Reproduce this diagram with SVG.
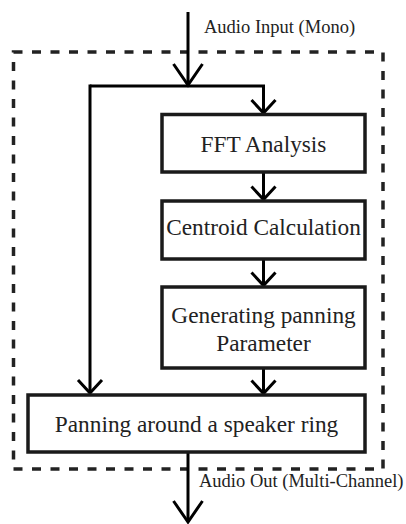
<svg xmlns="http://www.w3.org/2000/svg" width="406" height="524" viewBox="0 0 406 524">
<style>
.box{fill:#fff;stroke:#1a1a1a;stroke-width:3.5}
.lbl{font-family:"Liberation Serif","Times New Roman",serif;font-size:23.3px;fill:#222;text-anchor:middle}
.io{font-family:"Liberation Serif","Times New Roman",serif;font-size:18.5px;fill:#222}
.wire{fill:none;stroke:#000;stroke-width:3}
.frame{fill:none;stroke:#222;stroke-width:3.5;stroke-dasharray:9 9.5}
</style>
<defs>
<marker id="big" markerUnits="userSpaceOnUse" markerWidth="40" markerHeight="40" viewBox="-30 -20 40 40" refX="0" refY="0" orient="auto" style="overflow:visible">
<path d="M-21,-14.5 L0,0 L-21,14.5" fill="none" stroke="#000" stroke-width="3"/>
</marker>
<marker id="small" markerUnits="userSpaceOnUse" markerWidth="40" markerHeight="40" viewBox="-30 -20 40 40" refX="0" refY="0" orient="auto" style="overflow:visible">
<path d="M-13,-12 L0,0 L-13,12" fill="none" stroke="#000" stroke-width="3"/>
</marker>
</defs>
<rect id="frame" class="frame" x="13.5" y="52" width="369.5" height="417"/>
<g id="connectors">
<line class="wire" x1="188" y1="12" x2="188" y2="85" marker-end="url(#big)"/>
<polyline class="wire" points="90,86 263.5,86 263.5,113" marker-end="url(#small)"/>
<line class="wire" x1="90" y1="84.5" x2="90" y2="393" marker-end="url(#small)"/>
<line class="wire" x1="263.5" y1="172" x2="263.5" y2="199.5" marker-end="url(#small)"/>
<line class="wire" x1="263.5" y1="259" x2="263.5" y2="285.5" marker-end="url(#small)"/>
<line class="wire" x1="263.5" y1="368" x2="263.5" y2="393.5" marker-end="url(#small)"/>
<line class="wire" x1="188" y1="452" x2="188" y2="522" marker-end="url(#big)"/>
</g>
<g id="input-label"><text class="io" x="204" y="33">Audio Input (Mono)</text></g>
<g id="fft"><rect class="box" x="162" y="114.5" width="203" height="57.5"/><text class="lbl" x="263.5" y="152">FFT Analysis</text></g>
<g id="centroid"><rect class="box" x="162" y="201" width="203" height="58"/><text class="lbl" x="263.5" y="235">Centroid Calculation</text></g>
<g id="generate"><rect class="box" x="162" y="287" width="203" height="81"/><text class="lbl" x="263.5" y="323">Generating panning</text><text class="lbl" x="263.5" y="351">Parameter</text></g>
<g id="panning"><rect class="box" x="28" y="395" width="337" height="57"/><text class="lbl" x="196.5" y="432">Panning around a speaker ring</text></g>
<g id="output-label"><text class="io" x="199" y="487">Audio Out (Multi-Channel)</text></g>
</svg>
